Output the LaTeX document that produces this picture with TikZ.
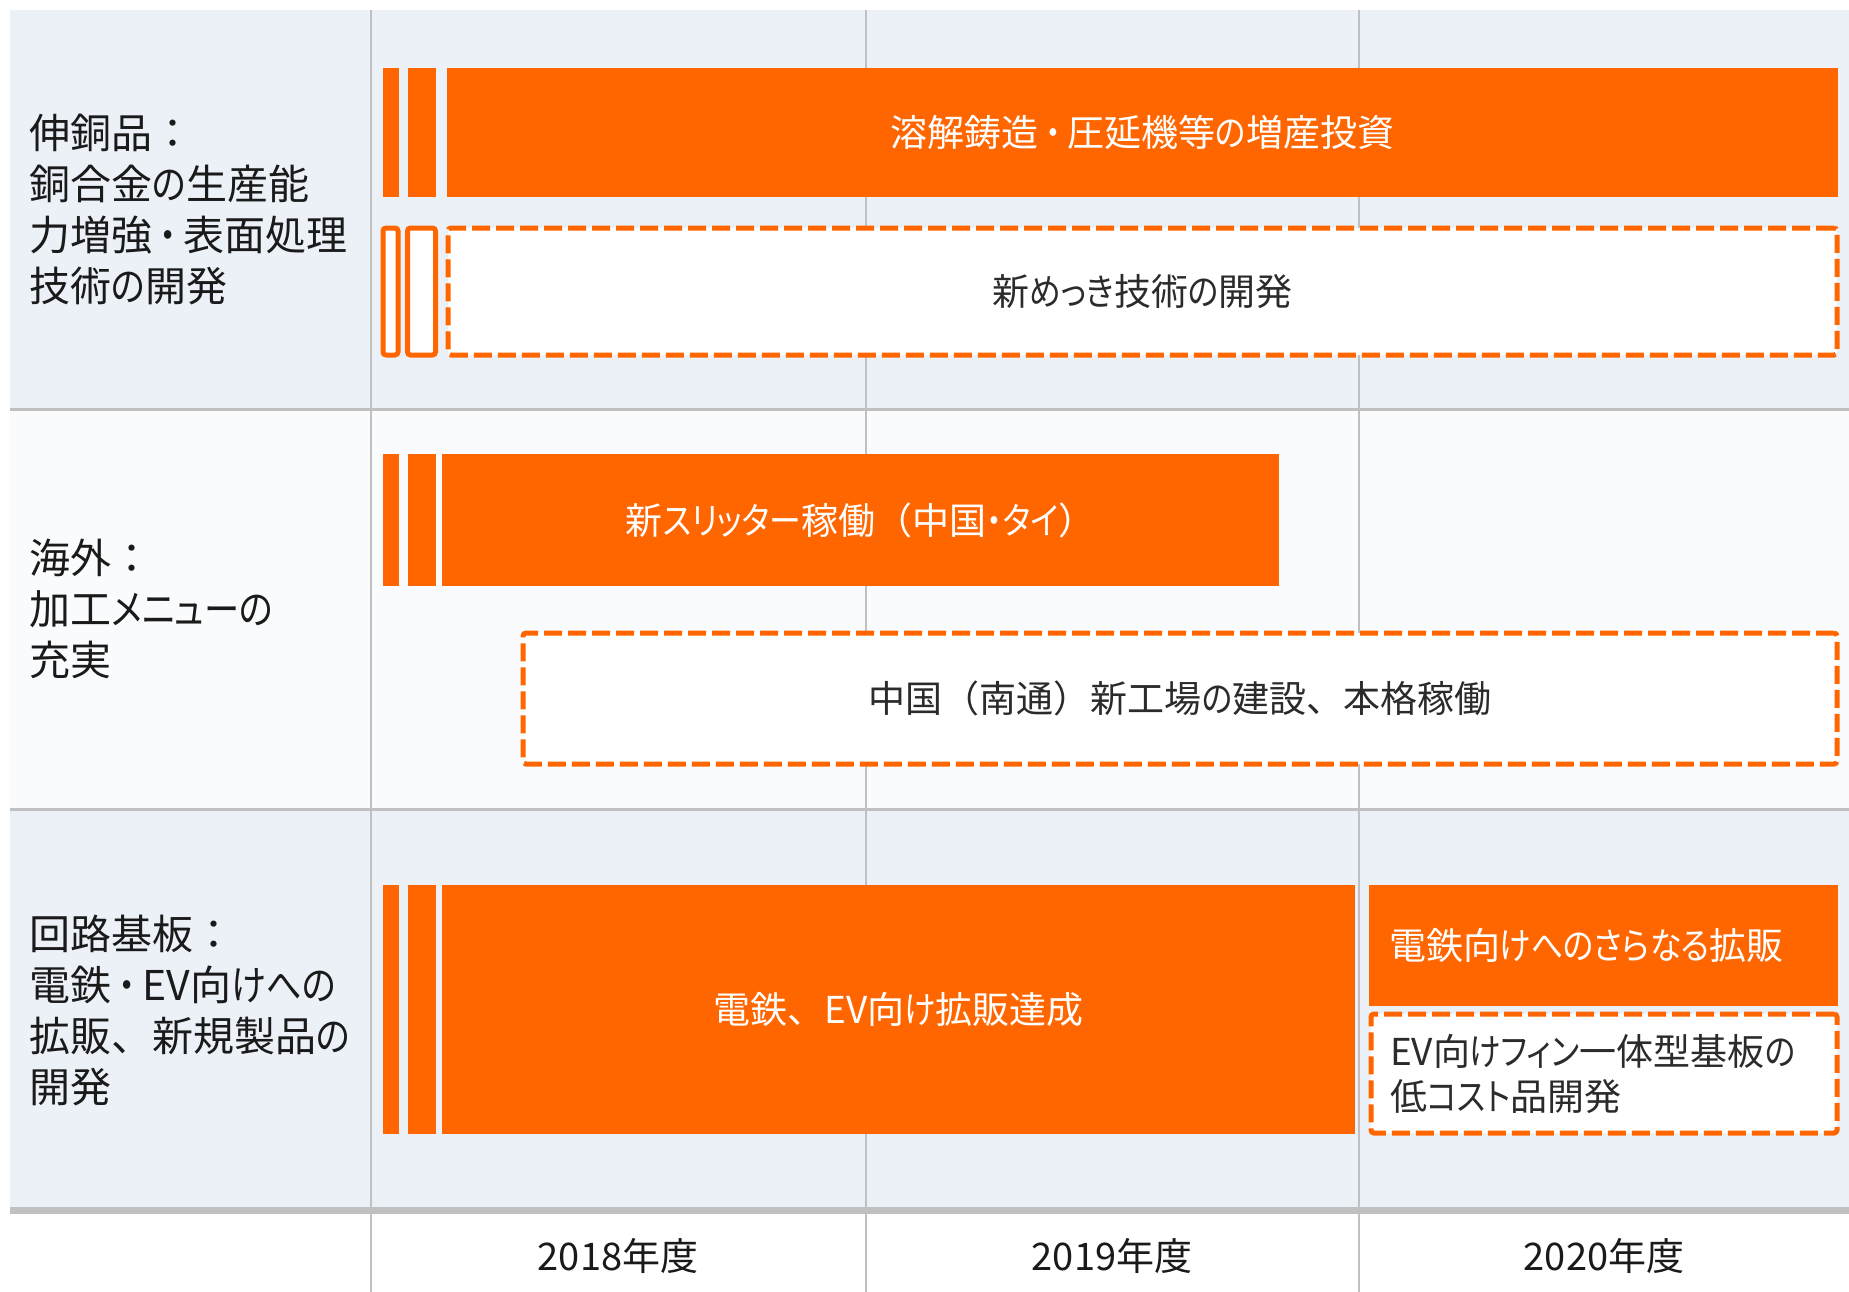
\documentclass[tikz,border=0pt]{standalone}
\usepackage{fontspec}
\setmainfont{Noto Sans CJK JP}
\newfontfamily\kanafam{Noto Sans CJK JP}[RawFeature=+palt,FakeStretch=0.86]
\newcommand\kanarun[1]{{\kanafam #1}}
\newcommand\middot{\kern.17em\kanarun{・}\kern.17em}
\definecolor{org}{HTML}{FF6600}
\definecolor{bgA}{HTML}{ECF1F8}
\definecolor{bgB}{HTML}{FAFBFD}
\definecolor{gridc}{HTML}{C0C0C0}
\definecolor{txt}{HTML}{1A1A1A}
\definecolor{txtb}{HTML}{2B2B2B}
\tikzset{
  obar/.style={fill=org, inner sep=0pt, outer sep=0pt, text=white,
    font=\fontsize{37}{44}\selectfont},
  obox/.style={draw=org, line width=5pt, fill=white, rounded corners=3pt,
    inner sep=0pt, outer sep=0pt},
  dbox/.style={obox, dash pattern=on 18pt off 6pt, text=txtb,
    font=\fontsize{37}{45}\selectfont},
  lbl/.style={anchor=west, align=left, inner sep=0pt, text=txt,
    font=\fontsize{41}{51}\selectfont},
  yr/.style={inner sep=0pt, text=txt, font=\fontsize{38}{44}\selectfont},
  gline/.style={draw=gridc, line width=3pt},
  vline/.style={draw=gridc, line width=2.5pt},
}
\begin{document}
\begin{tikzpicture}[x=1pt,y=-1pt]
\useasboundingbox (0,0) rectangle (1849,1292);
\fill[white] (0,0) rectangle (1849,1292);
% row backgrounds
\fill[bgA] (10,10) rectangle (1849,409);
\fill[bgB] (10,409) rectangle (1849,809);
\fill[bgA] (10,809) rectangle (1849,1208);
% grid
\coordinate (v1t) at (371,10);  \coordinate (v1b) at (371,1292);
\coordinate (v2t) at (866,10);  \coordinate (v2b) at (866,1292);
\coordinate (v3t) at (1359,10); \coordinate (v3b) at (1359,1292);
\coordinate (h1l) at (10,409);  \coordinate (h1r) at (1849,409);
\coordinate (h2l) at (10,809);  \coordinate (h2r) at (1849,809);
\coordinate (h3l) at (10,1210.5); \coordinate (h3r) at (1849,1210.5);
\draw[vline] (v1t) -- (v1b);
\draw[vline] (v2t) -- (v2b);
\draw[vline] (v3t) -- (v3b);
\draw[gline] (h1l) -- (h1r);
\draw[gline] (h2l) -- (h2r);
\draw[gridc, line width=7pt] (h3l) -- (h3r);

% labels
\node[lbl] (L1) at (29,210) {伸銅品：\\銅合金\kanarun{の}生産能\\力増強\middot 表面処理\\技術\kanarun{の}開発};
\node[lbl] (L2) at (29,609) {海外：\\加工\kanarun{メニューの}\\充実};
\node[lbl] (L3) at (29,1010) {回路基板：\\電鉄\middot EV向\kanarun{けへの}\\拡販、新規製品\kanarun{の}\\開発};

% row 1
\node[obar, minimum width=16pt, minimum height=129pt] (s11) at (391,132.5) {};
\node[obar, minimum width=28pt, minimum height=129pt] (s12) at (422,132.5) {};
\node[obar, minimum width=1391pt, minimum height=129pt] (b1) at (1142.5,132.5) {溶解鋳造\middot 圧延機等\kanarun{の}増産投資};
\node[obox, minimum width=15pt, minimum height=127pt] (o11) at (390.5,291.5) {};
\node[obox, minimum width=28pt, minimum height=127pt] (o12) at (421.5,291.5) {};
\node[dbox, minimum width=1389pt, minimum height=127pt] (d1) at (1142.5,291.5) {新\kanarun{めっき}技術\kanarun{の}開発};

% row 2
\node[obar, minimum width=16pt, minimum height=132pt] (s21) at (391,520) {};
\node[obar, minimum width=28pt, minimum height=132pt] (s22) at (422,520) {};
\node[obar, minimum width=837pt, minimum height=132pt] (b2) at (860.5,520) {新\kanarun{スリッター}稼働（中国\kanarun{・タイ}）};
\node[dbox, minimum width=1314pt, minimum height=131pt] (d2) at (1180,698.5) {中国（南通）新工場\kanarun{の}建設、本格稼働};

% row 3
\node[obar, minimum width=16pt, minimum height=249pt] (s31) at (391,1009.5) {};
\node[obar, minimum width=28pt, minimum height=249pt] (s32) at (422,1009.5) {};
\node[obar, minimum width=913pt, minimum height=249pt] (b3) at (898.5,1009.5) {電鉄、EV向\kanarun{け}拡販達成};
\node[obar, minimum width=469pt, minimum height=121pt, text width=429pt, align=left, inner xsep=20pt] (b4) at (1603.5,945.5) {電鉄向\kanarun{けへのさらなる}拡販};
\node[dbox, minimum width=466pt, minimum height=119pt, text width=428pt, align=left, inner xsep=19pt] (d3) at (1604,1073.5) {EV向\kanarun{けフィン}一体型基板\kanarun{の}\\低\kanarun{コスト}品開発};

% years
\node[yr] (y1) at (618,1256) {2018年度};
\node[yr] (y2) at (1112,1256) {2019年度};
\node[yr] (y3) at (1604,1256) {2020年度};
\end{tikzpicture}
\end{document}
